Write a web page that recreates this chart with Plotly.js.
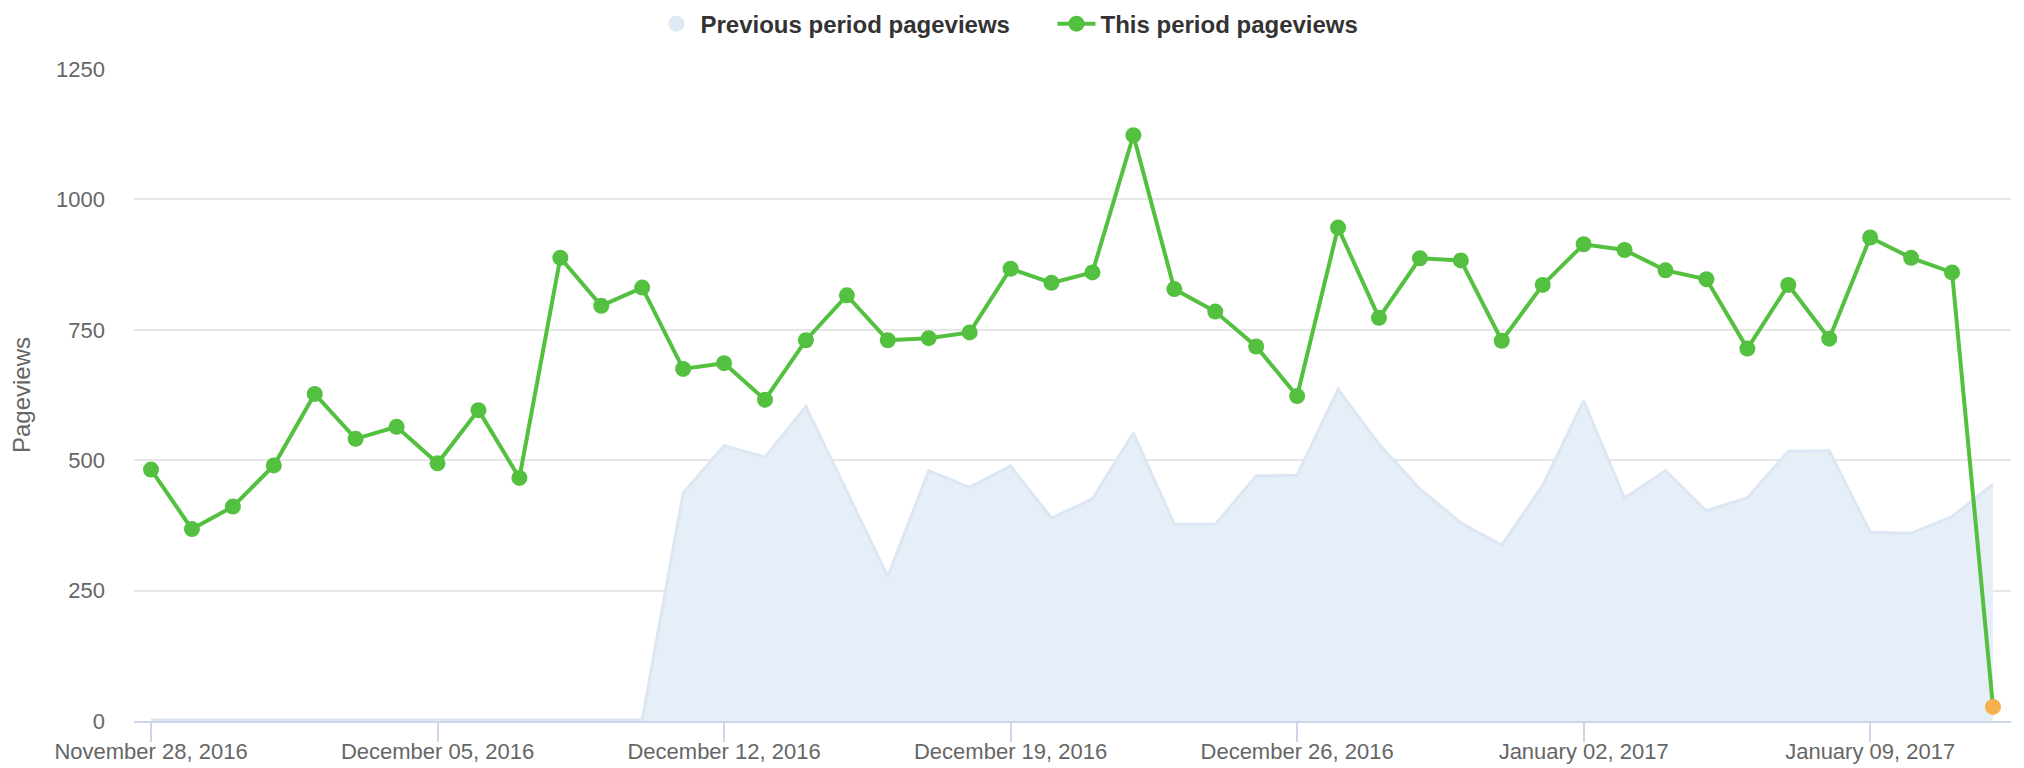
<!DOCTYPE html>
<html>
<head>
<meta charset="utf-8">
<script src="https://cdn.plot.ly/plotly-3.0.1.min.js"></script>
<style>
html,body{margin:0;padding:0;background:#fff;}
#chart{width:2024px;height:768px;}
</style>
</head>
<body>
<div id="chart"></div>
<script>
const dates = [
  "2016-11-28","2016-11-29","2016-11-30","2016-12-01","2016-12-02","2016-12-03","2016-12-04",
  "2016-12-05","2016-12-06","2016-12-07","2016-12-08","2016-12-09","2016-12-10","2016-12-11",
  "2016-12-12","2016-12-13","2016-12-14","2016-12-15","2016-12-16","2016-12-17","2016-12-18",
  "2016-12-19","2016-12-20","2016-12-21","2016-12-22","2016-12-23","2016-12-24","2016-12-25",
  "2016-12-26","2016-12-27","2016-12-28","2016-12-29","2016-12-30","2016-12-31","2017-01-01",
  "2017-01-02","2017-01-03","2017-01-04","2017-01-05","2017-01-06","2017-01-07","2017-01-08",
  "2017-01-09","2017-01-10","2017-01-11","2017-01-12"
];
const thisPeriodPageviews = [
  482, 368, 411, 490, 627, 541, 564, 494, 596, 466,
  888, 796, 831, 675, 686, 616, 730, 816, 730, 734,
  745, 867, 840, 860, 1123, 828, 785, 718, 623, 946,
  773, 887, 883, 729, 836, 914, 903, 864, 847, 714,
  836, 733, 927, 888, 860, 27
];
const previousPeriodPageviews = [
  2, 2, 2, 2, 2, 2, 2, 2, 2, 2,
  2, 2, 2, 437, 528, 506, 603, 440, 277, 480,
  448, 489, 389, 426, 552, 377, 377, 470, 471, 636,
  531, 445, 380, 337, 452, 614, 427, 480, 403, 428,
  517, 518, 362, 360, 392, 454
];
const seriesNames = ["Previous period pageviews", "This period pageviews"];
const yTitle = "Pageviews";

const GREEN = "#53c03f";
const ORANGE = "#f5b04f";
const AREA_FILL = "#e6eef7";
const AREA_LINE = "#dce7f3";
const FONT = "Liberation Sans, Arial, sans-serif";

const markerColors = thisPeriodPageviews.map((v, i) =>
  i === thisPeriodPageviews.length - 1 ? ORANGE : GREEN);

const xRange = ["2016-11-27 14:02", "2017-01-12 10:34"];
const WEEK = 7 * 24 * 3600 * 1000;

const traces = [
  {
    x: dates, y: previousPeriodPageviews, type: "scatter", mode: "lines",
    xaxis: "x", yaxis: "y",
    fill: "tozeroy", fillcolor: AREA_FILL,
    line: {color: AREA_LINE, width: 3},
    name: seriesNames[0], legendgroup: "prev", showlegend: false,
    hoverinfo: "x+y"
  },
  {
    x: [null], y: [null], type: "scatter", mode: "markers",
    xaxis: "x", yaxis: "y",
    marker: {color: "#dde9f5", size: 22, symbol: "circle"},
    name: seriesNames[0], legendgroup: "prev", showlegend: true,
    hoverinfo: "skip"
  },
  {
    x: dates, y: thisPeriodPageviews, type: "scatter", mode: "lines+markers",
    xaxis: "x2", yaxis: "y",
    line: {color: GREEN, width: 4},
    marker: {color: markerColors, size: 16},
    name: seriesNames[1], showlegend: true
  }
];

const layout = {
  width: 2024, height: 768,
  paper_bgcolor: "#ffffff", plot_bgcolor: "#ffffff",
  margin: {l: 134, r: 13, t: 69, b: 47, pad: 0},
  font: {family: FONT, color: "#666666", size: 22},
  showlegend: true,
  legend: {
    orientation: "h", xref: "container", yref: "container",
    x: 0.52, xanchor: "center", y: 0.998, yanchor: "top",
    font: {family: FONT, size: 24, color: "#333333", weight: "bold"},
    itemwidth: 38, entrywidth: 347, traceorder: "normal", bgcolor: "rgba(0,0,0,0)"
  },
  xaxis: {
    type: "date",
    range: xRange,
    tick0: "2016-11-28", dtick: WEEK,
    tickformat: "%B %d, %Y",
    showgrid: false, zeroline: false,
    showline: true, linecolor: "#ccd6eb", linewidth: 2,
    ticks: "outside", ticklen: 10, tickwidth: 2, tickcolor: "#ccd6eb",
    tickfont: {family: FONT, size: 22, color: "#666666"},
    fixedrange: true
  },
  xaxis2: {
    type: "date", overlaying: "x", anchor: "y", side: "bottom",
    range: xRange,
    tick0: "2016-11-28", dtick: WEEK,
    showgrid: false, zeroline: false, showline: false,
    showticklabels: false,
    ticks: "outside", ticklen: 20, tickwidth: 2, tickcolor: "#ccd6eb",
    fixedrange: true
  },
  yaxis: {
    range: [0, 1250], tick0: 0, dtick: 250,
    showgrid: true, gridcolor: "#e6e6e6", gridwidth: 2,
    zeroline: false, showline: false, ticks: "",
    ticklabelstandoff: 28,
    tickfont: {family: FONT, size: 22, color: "#666666"},
    title: {text: yTitle, font: {family: FONT, size: 24, color: "#666666"}, standoff: 18},
    automargin: false,
    fixedrange: true
  }
};

Plotly.newPlot("chart", traces, layout, {displayModeBar: false});
</script>
</body>
</html>
